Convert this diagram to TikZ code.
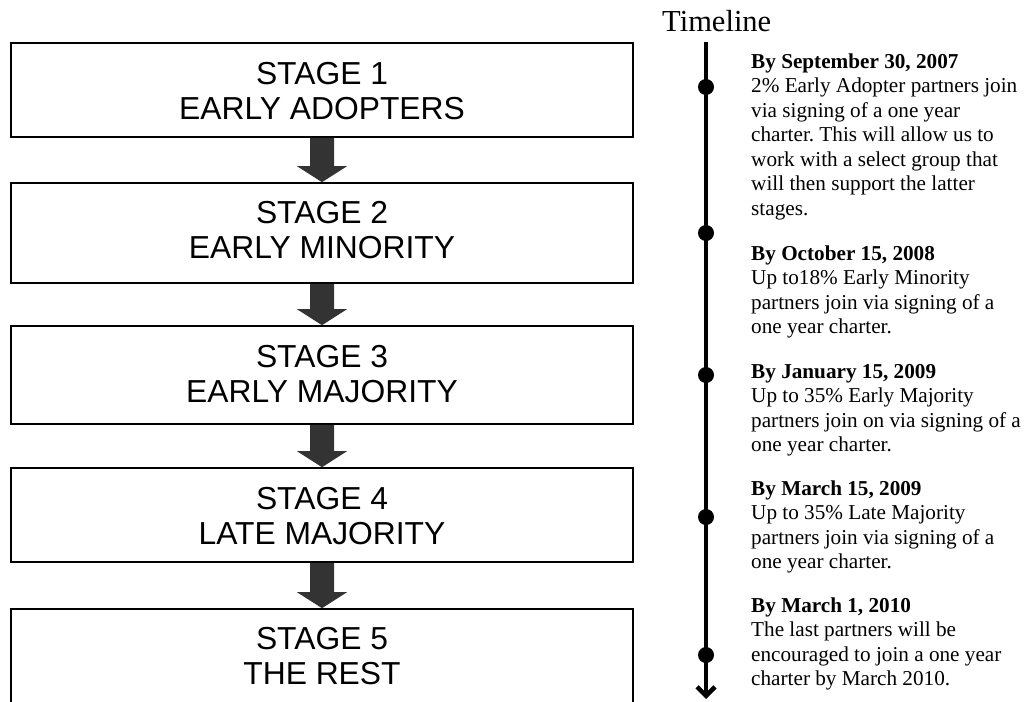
\documentclass[tikz,border=0pt]{standalone}
\usepackage{fontspec}
\setmainfont{Liberation Serif}
\newfontfamily\arialf{Liberation Sans}
\usetikzlibrary{calc,arrows.meta}
\frenchspacing
\begin{document}
\begin{tikzpicture}[x=1pt,y=-1pt,
  stagebox/.style={draw=black, line width=1.6pt, minimum width=622pt, inner sep=0pt},
  stagetext/.style={font=\arialf\fontsize{31.8}{35}\selectfont, align=center, inner sep=0pt, anchor=base},
  downarrow/.style={fill=black!80, draw=none},
  tldot/.style={circle, fill=black, minimum size=16pt, inner sep=0pt},
  tlnote/.style={font=\fontsize{21.2}{24.5}\selectfont, align=left, inner sep=0pt, anchor=base west},
]
\useasboundingbox (0,0) rectangle (1032,701);
\clip (0,0) rectangle (1032,701);

% stage boxes
\node[stagebox, minimum height=94pt]  (b1) at (322,90)  {};
\node[stagebox, minimum height=100pt] (b2) at (322,233) {};
\node[stagebox, minimum height=98pt]  (b3) at (322,375) {};
\node[stagebox, minimum height=94pt]  (b4) at (322,515) {};
\node[stagebox, minimum height=160pt] (b5) at (322,689) {};

% (base anchor = baseline of the last line)
\node[stagetext] (t1) at ($(b1.north)+(0,77)$) {STAGE 1\\EARLY ADOPTERS};
\node[stagetext] (t2) at ($(b2.north)+(0,76)$) {STAGE 2\\EARLY MINORITY};
\node[stagetext] (t3) at ($(b3.north)+(0,77)$) {STAGE 3\\EARLY MAJORITY};
\node[stagetext] (t4) at ($(b4.north)+(0,77)$) {STAGE 4\\LATE MAJORITY};
\node[stagetext] (t5) at ($(b5.north)+(0,76)$) {STAGE 5\\THE REST};

% block arrows between stages
\foreach \a/\b in {b1/b2,b2/b3,b3/b4,b4/b5}{
  \fill[downarrow] ($(\a.south)+(-12,0)$) -- ($(\a.south)+(12,0)$)
     -- ($(\b.north)+(12,-16)$) -- ($(\b.north)+(25,-16)$) -- (\b.north)
     -- ($(\b.north)+(-25,-16)$) -- ($(\b.north)+(-12,-16)$) -- cycle;
}

% timeline
\node[font=\fontsize{30.5}{36}\selectfont, inner sep=0pt, anchor=base west] (tltitle) at (662,32) {Timeline};
\coordinate (tltop) at (706,42);
\coordinate (tlbot) at (706,699);
\draw[line width=4.5pt, -{Straight Barb[length=9pt,width=18pt]}] (tltop) -- (tlbot);
\node[tldot] (d1) at (706,87)  {};
\node[tldot] (d2) at (706,233) {};
\node[tldot] (d3) at (706,375) {};
\node[tldot] (d4) at (706,517) {};
\node[tldot] (d5) at (706,655) {};

\node[tlnote] (n1) at (751,215) {\textbf{By September 30, 2007}\\2\% Early Adopter partners join\\via signing of a one year\\charter. This will allow us to\\work with a select group that\\will then support the latter\\stages.};
\node[tlnote] (n2) at (751,333.5) {\textbf{By October 15, 2008}\\Up to18\% Early Minority\\partners join via signing of a\\one year charter.};
\node[tlnote] (n3) at (751,451.5) {\textbf{By January 15, 2009}\\Up to 35\% Early Majority\\partners join on via signing of a\\one year charter.};
\node[tlnote] (n4) at (751,568.5) {\textbf{By March 15, 2009}\\Up to 35\% Late Majority\\partners join via signing of a\\one year charter.};
\node[tlnote] (n5) at (751,685.5) {\textbf{By March 1, 2010}\\The last partners will be\\encouraged to join a one year\\charter by March 2010.};
\end{tikzpicture}
\end{document}
